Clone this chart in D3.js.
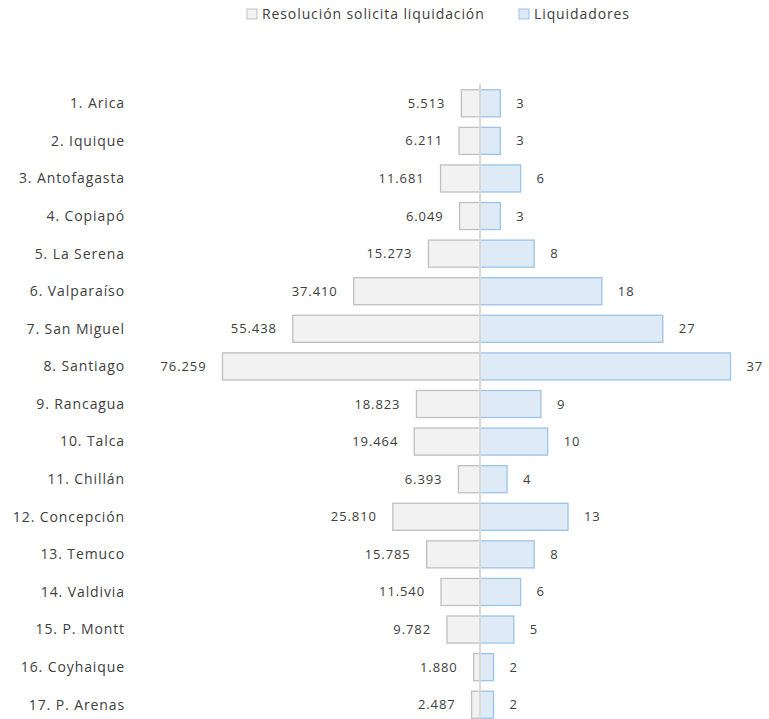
<html>
<head>
    <meta charset="utf-8">
    <title>Liquidaciones por tribunal</title>
    <script src='https://d3js.org/d3.v7.min.js'></script>
    <style>
        body { margin: 0; background: #fff; }
        text { font-family: "Open Sans", "Noto Sans", sans-serif; fill: #404040; letter-spacing: 0.9px; }
    </style>
</head>
<body>
    <svg id="chart"></svg>
    <script>
        var categories = ["1. Arica", "2. Iquique", "3. Antofagasta", "4. Copiapó", "5. La Serena",
            "6. Valparaíso", "7. San Miguel", "8. Santiago", "9. Rancagua", "10. Talca", "11. Chillán",
            "12. Concepción", "13. Temuco", "14. Valdivia", "15. P. Montt", "16. Coyhaique", "17. P. Arenas"];
        var resoluciones = [5513, 6211, 11681, 6049, 15273, 37410, 55438, 76259, 18823, 19464, 6393,
            25810, 15785, 11540, 9782, 1880, 2487];
        var liquidadores = [3, 3, 6, 3, 8, 18, 27, 37, 9, 10, 4, 13, 8, 6, 5, 2, 2];
        var seriesNames = ["Resolución solicita liquidación", "Liquidadores"];

        var width = 769, height = 719, center = 480;
        var svg = d3.select("#chart").attr("width", width).attr("height", height);

        var fmt = d3.formatLocale({ decimal: ",", thousands: ".", grouping: [3], currency: ["$", ""] }).format(",d");

        var y = d3.scaleBand().domain(categories).range([84.5, 723.5]).paddingInner(0.28).paddingOuter(0.14);
        var xLeft = d3.scaleLinear().domain([0, 76259]).range([center, 222.5]);
        var xRight = d3.scaleLinear().domain([0, 37]).range([center, 730.5]);

        // left bars
        svg.append("g").selectAll("rect")
            .data(resoluciones)
            .enter().append("rect")
            .attr("x", function (d) { return xLeft(d); })
            .attr("y", function (d, i) { return y(categories[i]); })
            .attr("width", function (d) { return center - xLeft(d); })
            .attr("height", y.bandwidth())
            .attr("fill", "#f2f2f2")
            .attr("stroke", "#bfbfbf")
            .attr("stroke-width", 1.3);

        // right bars
        svg.append("g").selectAll("rect")
            .data(liquidadores)
            .enter().append("rect")
            .attr("x", center)
            .attr("y", function (d, i) { return y(categories[i]); })
            .attr("width", function (d) { return xRight(d) - center; })
            .attr("height", y.bandwidth())
            .attr("fill", "#deebf7")
            .attr("stroke", "#9dc3e6")
            .attr("stroke-width", 1.3);

        // center line
        svg.append("line")
            .attr("x1", center).attr("x2", center)
            .attr("y1", 84).attr("y2", height)
            .attr("stroke", "#d9d9d9").attr("stroke-width", 2);

        // value labels
        svg.append("g").selectAll("text")
            .data(resoluciones)
            .enter().append("text")
            .attr("x", function (d) { return xLeft(d) - 16; })
            .attr("y", function (d, i) { return y(categories[i]) + y.bandwidth() / 2; })
            .attr("dy", "0.35em")
            .attr("text-anchor", "end")
            .style("font-size", "13px")
            .text(function (d) { return fmt(d); });

        svg.append("g").selectAll("text")
            .data(liquidadores)
            .enter().append("text")
            .attr("x", function (d) { return xRight(d) + 16; })
            .attr("y", function (d, i) { return y(categories[i]) + y.bandwidth() / 2; })
            .attr("dy", "0.35em")
            .style("font-size", "13px")
            .text(function (d) { return fmt(d); });

        // category labels
        svg.append("g").selectAll("text")
            .data(categories)
            .enter().append("text")
            .attr("x", 125)
            .attr("y", function (d) { return y(d) + y.bandwidth() / 2; })
            .attr("dy", "0.35em")
            .attr("text-anchor", "end")
            .style("font-size", "14px")
            .text(function (d) { return d; });

        // legend
        var legend = svg.append("g");
        var lx = [247, 519], fills = ["#f2f2f2", "#deebf7"], strokes = ["#bfbfbf", "#9dc3e6"];
        seriesNames.forEach(function (name, i) {
            legend.append("rect")
                .attr("x", lx[i]).attr("y", 9).attr("width", 10).attr("height", 10)
                .attr("fill", fills[i]).attr("stroke", strokes[i]);
            legend.append("text")
                .attr("x", lx[i] + 15).attr("y", 14).attr("dy", "0.35em")
                .style("font-size", "14px")
                .text(name);
        });
    </script>
</body>
</html>
